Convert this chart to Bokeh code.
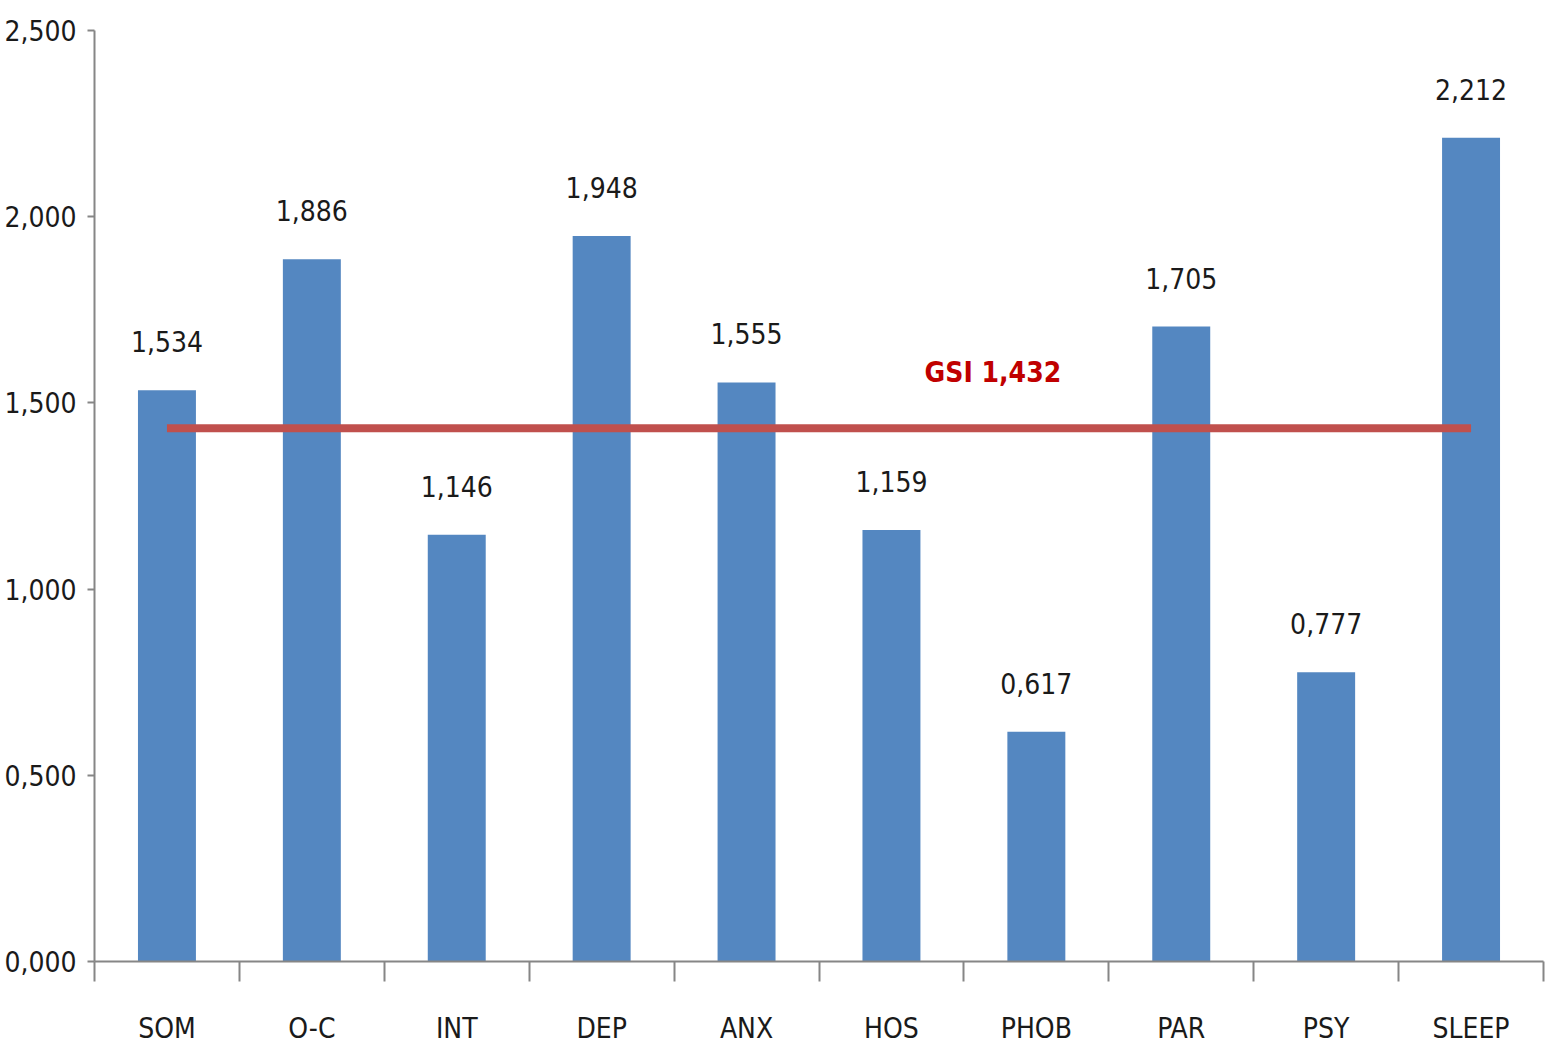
from bokeh.plotting import figure
from bokeh.models import Range1d, FixedTicker, ColumnDataSource
from bokeh.core.properties import value
from bokeh.embed import file_html
from bokeh.resources import INLINE

categories = ["SOM", "O-C", "INT", "DEP", "ANX", "HOS", "PHOB", "PAR", "PSY", "SLEEP"]
scores = [1.534, 1.886, 1.146, 1.948, 1.555, 1.159, 0.617, 1.705, 0.777, 2.212]
gsi_value = 1.432
gsi_label = "GSI 1,432"
y_ticks = [0.0, 0.5, 1.0, 1.5, 2.0, 2.5]

FONT = "DejaVu Sans Condensed"
FS = "28px"

def fmt(v):
    return f"{v:.3f}".replace(".", ",")

n = len(categories)
centers = [i + 0.5 for i in range(n)]
bounds = [float(i) for i in range(n + 1)]

p = figure(width=1550, height=1049, output_backend="svg", toolbar_location=None,
           x_range=Range1d(0, n), y_range=Range1d(0, 2.5),
           min_border_left=94, min_border_right=7, min_border_top=30, min_border_bottom=88)
p.outline_line_color = None
p.xgrid.visible = False
p.ygrid.visible = False

src = ColumnDataSource(dict(x=centers, top=scores, lab=[fmt(v) for v in scores]))
p.vbar(x="x", top="top", bottom=0, width=0.4, source=src, fill_color="#5487C1", line_color=None)
p.text(x="x", y="top", text="lab", source=src, text_align="center", text_baseline="bottom",
       y_offset=-38, text_font=value(FONT), text_font_size=FS, text_color="#1a1a1a")

p.line(x=[centers[0], centers[-1]], y=[gsi_value, gsi_value], line_color="#C0504D", line_width=8)
p.text(x=[6.2], y=[gsi_value], text=[gsi_label], text_align="center", text_baseline="middle",
       y_offset=-56, text_font=value(FONT), text_font_size=FS, text_font_style="bold",
       text_color="#C00000")

xa = p.xaxis[0]
xa.ticker = FixedTicker(ticks=centers, minor_ticks=bounds)
xa.major_label_overrides = {c: name for c, name in zip(centers, categories)}
xa.major_tick_out = 0
xa.major_tick_in = 0
xa.minor_tick_out = 20
xa.minor_tick_in = 0
xa.minor_tick_line_color = "#868686"
xa.minor_tick_line_width = 2
xa.axis_line_color = "#868686"
xa.axis_line_width = 2
xa.major_label_standoff = 30
xa.major_label_text_font = FONT
xa.major_label_text_font_size = FS
xa.major_label_text_color = "#1a1a1a"

ya = p.yaxis[0]
ya.ticker = FixedTicker(ticks=y_ticks, minor_ticks=[])
ya.major_label_overrides = {t: fmt(t) for t in y_ticks}
ya.major_tick_out = 7
ya.major_tick_in = 0
ya.major_tick_line_color = "#868686"
ya.major_tick_line_width = 2
ya.axis_line_color = "#868686"
ya.axis_line_width = 2
ya.major_label_standoff = 11
ya.major_label_text_font = FONT
ya.major_label_text_font_size = FS
ya.major_label_text_color = "#1a1a1a"

open("out.html", "w").write(file_html(p, INLINE))
